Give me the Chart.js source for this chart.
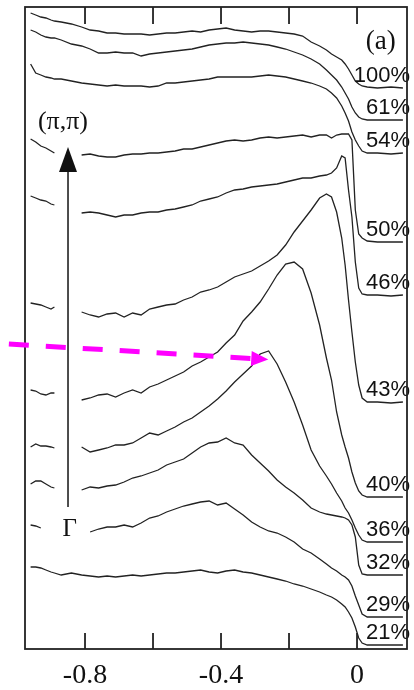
<!DOCTYPE html>
<html>
<head>
<meta charset="utf-8">
<script src="https://cdn.jsdelivr.net/npm/chart.js@4.4.1/dist/chart.umd.min.js"></script>
<style>
  html, body { margin: 0; padding: 0; background: #fff; }
  canvas { display: block; }
</style>
</head>
<body>
<canvas id="edc" width="414" height="690"></canvas>
<script>
// energy grid (eV) shared by all the traces
const energy = [-0.96, -0.945, -0.93, -0.915, -0.90, -0.89, -0.87, -0.84, -0.81, -0.785,
  -0.76, -0.735, -0.71, -0.685, -0.66, -0.635, -0.61, -0.585, -0.56, -0.535, -0.51, -0.485,
  -0.46, -0.435, -0.41, -0.385, -0.36, -0.335, -0.31, -0.285, -0.26, -0.235, -0.21, -0.185,
  -0.16, -0.135, -0.11, -0.09, -0.075, -0.06, -0.045, -0.035, -0.025, -0.015, -0.005,
  0.005, 0.015, 0.03, 0.06, 0.10, 0.135];

// doping of each trace, top to bottom
const dopings = ['100%', '61%', '54%', '50%', '46%', '43%', '40%', '36%', '32%', '29%', '21%'];

// stacked intensities (arb. units), null = break in the trace
const edc100 = [636,634,632,631,629,628,627,625,622,619,
  618,616,616,615,615,615,614,615,616,616,617,618,617,619,620,621,619,618,617,618,618,617,616,615,613,607,603,
  599,595,592,589,585,580,574,568,565,563,562,561,562,561];
const edc61 = [619,617,614,612,611,611,609,605,603,600,
  596,596,597,596,596,593,595,596,597,598,599,600,602,604,605,606,606,607,606,605,604,602,600,597,594,590,585,
  579,574,569,562,556,550,542,536,532,530,529,529,529,529];
const edc54 = [585,576,574,572,571,570,570,568,566,565,
  564,563,564,563,563,563,562,563,566,566,567,568,569,570,572,572,572,572,572,573,574,573,572,570,568,566,563,
  560,556,551,543,536,528,517,509,503,498,496,496,495,496];
const edc50 = [510,507,503,501,498,496,null,null,494,495,
  493,492,492,494,495,495,496,496,497,498,500,500,502,504,506,508,509,508,509,511,512,511,512,513,514,512,514,
  514,511,514,515,515,515,509,439,415,411,408,407,407,407];
const edc46 = [453,451,449,448,445,444,null,null,436,437,
  436,434,432,434,434,436,437,437,439,440,442,444,448,450,452,456,459,460,462,463,464,465,467,469,471,471,473,
  474,476,481,493,491,459,432,387,361,355,354,354,353,354];
const edc43 = [346,345,344,342,340,342,null,null,337,334,
  332,335,336,332,336,334,340,342,344,345,349,352,357,359,362,367,372,375,378,383,388,394,404,417,428,439,451,
  455,452,437,411,384,349,317,287,264,251,247,247,246,247];
const edc40 = [259,258,255,254,256,256,null,null,249,251,
  254,255,252,256,259,256,262,265,269,273,277,283,287,292,297,306,314,328,337,347,360,374,385,387,380,356,324,
  291,269,237,214,202,191,177,166,158,154,152,152,152,152];
const edc36 = [202,205,203,203,202,201,null,null,202,197,
  199,201,204,204,206,211,216,214,218,222,227,231,237,243,250,258,267,275,283,295,298,285,267,247,224,199,183,
  173,165,156,148,141,136,129,121,114,109,107,107,107,107];
const edc32 = [165,168,168,165,162,161,null,null,159,162,
  161,163,164,167,171,173,176,179,184,187,190,196,202,206,207,211,206,204,194,186,178,169,162,156,149,141,137,
  135,134,133,132,131,129,124,112,84,75,74,74,74,74];
const edc29 = [124,123,121,null,null,null,null,null,null,117,
  120,122,122,124,122,126,131,133,137,140,143,145,147,148,144,146,140,134,127,122,118,116,112,107,100,96,90,
  85,81,78,74,72,69,63,53,44,35,32,32,32,32];
const edc21 = [82,82,81,79,77,76,74,76,74,73,
  72,73,72,73,74,73,74,75,76,76,77,78,79,77,76,78,79,77,76,74,72,70,68,65,63,60,57,
  54,52,49,45,42,37,31,22,11,6,4,4,4,4];

const spectra = [edc100, edc61, edc54, edc50, edc46, edc43, edc40, edc36, edc32, edc29, edc21];

// x ticks
const tickValues = [-0.8, -0.6, -0.4, -0.2, 0];
const tickLabels = ['-0.8', '', '-0.4', '', '0'];

const serif = '"Liberation Serif", "Times New Roman", serif';

// frame, inward ticks, doping labels and the arrows
const overlay = {
  id: 'overlay',
  afterDraw(chart) {
    const { ctx, chartArea: a, scales: { x, y } } = chart;
    ctx.save();

    ctx.fillStyle = '#111';
    ctx.font = '22px "Liberation Sans", Arial, sans-serif';
    ctx.textAlign = 'right';
    ctx.textBaseline = 'alphabetic';
    spectra.forEach((s, i) => {
      const tail = y.getPixelForValue(s[s.length - 1]);
      ctx.fillText(dopings[i], a.right + 3, tail - 6);
    });

    ctx.strokeStyle = '#222';
    ctx.lineWidth = 1.8;
    ctx.strokeRect(a.left, a.top, a.right - a.left, a.bottom - a.top);
    ctx.beginPath();
    tickValues.forEach(v => {
      const px = x.getPixelForValue(v);
      ctx.moveTo(px, a.top); ctx.lineTo(px, a.top + 17);
      ctx.moveTo(px, a.bottom); ctx.lineTo(px, a.bottom - 16);
    });
    ctx.stroke();

    // (a)
    ctx.textAlign = 'center';
    ctx.textBaseline = 'middle';
    ctx.font = '27px ' + serif;
    ctx.fillText('(a)', x.getPixelForValue(0.07), y.getPixelForValue(607));

    // k-path arrow Gamma -> (pi,pi)
    const ax = x.getPixelForValue(-0.85);
    const tip = y.getPixelForValue(502), base = y.getPixelForValue(477), foot = y.getPixelForValue(142);
    ctx.lineWidth = 1.6;
    ctx.beginPath();
    ctx.moveTo(ax, foot); ctx.lineTo(ax, base);
    ctx.stroke();
    ctx.beginPath();
    ctx.moveTo(ax, tip); ctx.lineTo(ax - 9, base); ctx.lineTo(ax + 9, base);
    ctx.closePath();
    ctx.fill();
    ctx.font = '26px ' + serif;
    ctx.fillText('(\u03c0,\u03c0)', x.getPixelForValue(-0.865), y.getPixelForValue(527));
    ctx.font = '25px ' + serif;
    ctx.fillText('\u0393', x.getPixelForValue(-0.845), y.getPixelForValue(120));

    // magenta dashed pointer
    const x0 = x.getPixelForValue(-1.024), y0 = y.getPixelForValue(305);
    const x1 = x.getPixelForValue(-0.261), y1 = y.getPixelForValue(289.5);
    const ang = Math.atan2(y1 - y0, x1 - x0);
    const head = 17, half = 7.5;
    const bx = x1 - head * Math.cos(ang), by = y1 - head * Math.sin(ang);
    ctx.strokeStyle = '#ff00ff';
    ctx.fillStyle = '#ff00ff';
    ctx.lineWidth = 5;
    ctx.setLineDash([20, 17]);
    ctx.beginPath();
    ctx.moveTo(x0, y0); ctx.lineTo(bx, by);
    ctx.stroke();
    ctx.setLineDash([]);
    ctx.beginPath();
    ctx.moveTo(x1, y1);
    ctx.lineTo(bx + half * Math.sin(ang), by - half * Math.cos(ang));
    ctx.lineTo(bx - half * Math.sin(ang), by + half * Math.cos(ang));
    ctx.closePath();
    ctx.fill();

    ctx.restore();
  }
};

new Chart(document.getElementById('edc'), {
  type: 'line',
  data: {
    datasets: spectra.map((s, i) => ({
      label: dopings[i],
      data: s.map((v, k) => ({ x: energy[k], y: v })),
      borderColor: '#222',
      borderWidth: 1.3,
      pointRadius: 0,
      tension: 0,
      spanGaps: false
    }))
  },
  options: {
    responsive: false,
    animation: false,
    devicePixelRatio: 1,
    layout: { padding: { left: 25, right: 7, top: 7, bottom: 0 } },
    plugins: {
      legend: { display: false },
      tooltip: { enabled: false }
    },
    scales: {
      x: {
        type: 'linear',
        min: -0.9765,
        max: 0.147,
        grid: { display: false, drawTicks: false },
        border: { display: false },
        afterBuildTicks: (s) => { s.ticks = tickValues.map(v => ({ value: v })); },
        afterFit: (s) => { s.height = 41; },
        ticks: {
          autoSkip: false,
          maxRotation: 0,
          padding: 10,
          color: '#111',
          font: { family: serif, size: 28 },
          callback: (v) => tickLabels[tickValues.indexOf(v)] ?? ''
        }
      },
      y: {
        type: 'linear',
        min: 0,
        max: 642,
        display: false
      }
    }
  },
  plugins: [overlay]
});
</script>
</body>
</html>
